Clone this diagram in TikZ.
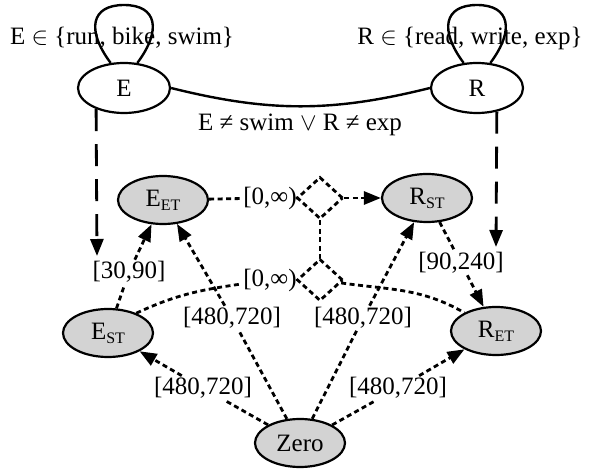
\documentclass[tikz,border=0pt]{standalone}
\usepackage{fontspec}
\setmainfont{Liberation Serif}
\usetikzlibrary{shapes.geometric,arrows.meta}
\definecolor{graynode}{HTML}{D3D3D3}
\newcommand\nsub[1]{\raisebox{-0.35ex}{\fontsize{16}{16}\selectfont #1}}
\begin{document}
\begin{tikzpicture}[x=1pt,y=1pt,
  every node/.style={font=\fontsize{25}{30}\selectfont},
  st/.style={ellipse, draw, line width=2.2pt, minimum width=92pt, minimum height=50pt, inner sep=0pt},
  gst/.style={st, fill=graynode, minimum width=90pt, minimum height=48pt},
  lab/.style={inner sep=1.5pt},
  solidline/.style={line width=2.4pt},
  dotline/.style={line width=2.8pt, dash pattern=on 5pt off 3.5pt},
  longdash/.style={line width=2.8pt, dash pattern=on 22pt off 13pt},
  arrowhd/.style={-{Triangle[length=17pt,width=13pt]}},
  dia/.style={diamond, draw, dotline, minimum width=46pt, minimum height=42pt, inner sep=0pt}
]
\useasboundingbox (0,0) rectangle (590,-473);

% state nodes
\node[st] (E) at (124,-88) {E};
\node[st] (R) at (477,-88) {R};
\node[gst] (eet) at (163,-200) {E\nsub{ET}};
\node[gst] (rst) at (427,-198) {R\nsub{ST}};
\node[gst] (est) at (108,-333) {E\nsub{ST}};
\node[gst] (ret) at (496,-331) {R\nsub{ET}};
\node[gst] (zero) at (300,-443) {Zero};
\node[dia] (d1) at (320,-198) {};
\node[dia] (d2) at (320,-280) {};

% labels
\node (el) at (122,-38) {E $\in$ \{run, bike, swim\}};
\node (rl) at (470,-38) {R $\in$ \{read, write, exp\}};
\node (cl) at (300,-125) {E ≠ swim $\vee$ R ≠ exp};
\node[lab] (u0) at (270,-198) {[0,∞)};
\node[lab] (l0) at (270,-280) {[0,∞)};
\node[lab] (a1) at (129,-272) {[30,90]};
\node[lab] (a2) at (461,-263) {[90,240]};
\node[lab] (z1) at (203,-388) {[480,720]};
\node[lab] (z2) at (232,-318) {[480,720]};
\node[lab] (z3) at (363,-318) {[480,720]};
\node[lab] (z4) at (398,-388) {[480,720]};

% coordinates
\coordinate (Etop) at (124,-5);
\coordinate (Rtop) at (477,-5);
\coordinate (Etip) at (97,-256);
\coordinate (Rtip) at (496,-247);

% top part
\draw[solidline] (E.118) .. controls (86,-30) and (91,-5) .. (Etop) .. controls (157,-5) and (162,-30) .. (E.62);
\draw[solidline] (R.118) .. controls (439,-30) and (444,-5) .. (Rtop) .. controls (510,-5) and (515,-30) .. (R.62);
\draw[solidline] (E.east) to[out=-14,in=194] (R.west);
\draw[longdash,arrowhd] (E.-143) -- (Etip);
\draw[longdash,arrowhd] (R.-50) -- (Rtip);

% diamonds
\draw[dotline] (eet) -- (u0) -- (d1);
\draw[dotline,arrowhd] (d1) -- (rst);
\draw[dotline] (d1) -- (d2);
\draw[dotline] (est.35) to[out=25,in=188] (l0);
\draw[dotline] (l0) -- (d2);
\draw[dotline] (d2) to[out=-8,in=150] (ret);

% labelled edges
\draw[dotline,arrowhd] (est) -- (a1) -- (eet);
\draw[dotline,arrowhd] (rst) -- (a2) -- (ret);
\draw[dotline,arrowhd] (zero) -- (z1) -- (est);
\draw[dotline,arrowhd] (zero) -- (z2) -- (eet);
\draw[dotline,arrowhd] (zero) -- (z3) -- (rst);
\draw[dotline,arrowhd] (zero) -- (z4) -- (ret);
\end{tikzpicture}
\end{document}
